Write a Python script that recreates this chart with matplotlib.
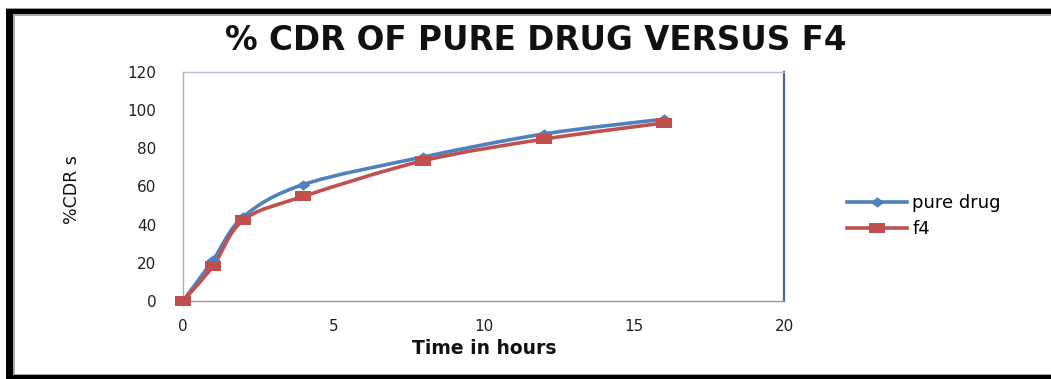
import matplotlib
matplotlib.use("Agg")
import matplotlib.pyplot as plt
from matplotlib.path import Path
from matplotlib.patches import PathPatch, Rectangle
from matplotlib.lines import Line2D
import numpy as np

# Sampling times (hours) and cumulative drug release (%)
time_h = [0, 1, 2, 4, 8, 12, 16]
pure_drug = [0, 21.5, 44, 61, 75.5, 87.5, 95.3]
f4 = [0, 18.3, 42.3, 54.8, 73.5, 84.8, 93.3]

series_names = ["pure drug", "f4"]
x_ticks = [0, 5, 10, 15, 20]
y_ticks = [0, 20, 40, 60, 80, 100, 120]

title_text = "% CDR OF PURE DRUG VERSUS F4"
x_label = "Time in hours"
y_label = "%CDR s"

BLUE = "#4F81BD"
RED = "#C0504D"
FONT = "DejaVu Sans"

W, H = 1051, 379
fig = plt.figure(figsize=(W / 100, H / 100), dpi=100)


def px_rect(x0, y0, x1, y1, color):
    """Rectangle given in pixel coordinates measured from the top-left."""
    fig.add_artist(Rectangle((x0 / W, 1 - y1 / H), (x1 - x0) / W, (y1 - y0) / H,
                             transform=fig.transFigure, facecolor=color,
                             edgecolor="none", zorder=0))


# Outer frame: thick black bands with thin grey edges
px_rect(6, 8, W, 9, "#9a9a9a")
px_rect(6, 9, W, 14.5, "black")
px_rect(13, 14.5, W, 15.5, "#a8a8a8")
px_rect(6, 9, 12.5, H, "black")
px_rect(12.5, 14.5, 15, 374, "#a8a8a8")
px_rect(12.5, 373.5, W, 375, "#a8a8a8")
px_rect(6, 375, W, H, "black")

ax = fig.add_axes([183 / W, 1 - 301 / H, (784 - 183) / W, (301 - 72) / H])
ax.set_xlim(0, 20)
ax.set_ylim(0, 120)
ax.set_xticks(x_ticks)
ax.set_yticks(y_ticks)
ax.tick_params(length=0, labelsize=11, colors="#222222")
for lab in ax.get_xticklabels() + ax.get_yticklabels():
    lab.set_fontfamily(FONT)
ax.tick_params(axis="y", pad=19)
ax.tick_params(axis="x", pad=13)

ax.spines["left"].set_color("#9fb0cc")
ax.spines["top"].set_color("#b4c0d6")
ax.spines["bottom"].set_color("#9a9a9a")
ax.spines["right"].set_color("#4a63a3")
ax.spines["right"].set_linewidth(1.6)
for s in ("left", "top", "bottom"):
    ax.spines[s].set_linewidth(1.0)


def smooth_path(xs, ys):
    """Catmull-Rom style cubic Bezier path through the points."""
    pts = np.column_stack([xs, ys]).astype(float)
    n = len(pts)
    verts = [pts[0]]
    codes = [Path.MOVETO]
    for i in range(n - 1):
        p0 = pts[i - 1] if i > 0 else pts[i]
        p1 = pts[i]
        p2 = pts[i + 1]
        p3 = pts[i + 2] if i + 2 < n else pts[i + 1]
        c1 = p1 + (p2 - p0) / 6.0
        c2 = p2 - (p3 - p1) / 6.0
        verts += [c1, c2, p2]
        codes += [Path.CURVE4] * 3
    return Path(verts, codes)


diamond = [(0, 1), (1.35, 0), (0, -1), (-1.35, 0), (0, 1)]
wide_square = [(-1.6, -1), (1.6, -1), (1.6, 1), (-1.6, 1), (-1.6, -1)]

for ys, color, marker, msize in ((pure_drug, BLUE, diamond, 10),
                                 (f4, RED, wide_square, 12)):
    ax.add_patch(PathPatch(smooth_path(time_h, ys), facecolor="none",
                           edgecolor=color, linewidth=2.6, zorder=3,
                           capstyle="round", joinstyle="round"))
    ax.plot(time_h, ys, linestyle="none", marker=marker, markersize=msize,
            color=color, markeredgewidth=0, zorder=4, clip_on=False)

fig.text(536 / W, 1 - 41 / H, title_text, ha="center", va="center",
         fontsize=23.5, fontweight="bold", family=FONT, color="#111111")
fig.text(484 / W, 1 - 349 / H, x_label, ha="center", va="center",
         fontsize=13.5, fontweight="bold", family=FONT, color="#111111")
fig.text(72 / W, 1 - 190 / H, y_label, ha="center", va="center",
         rotation=90, fontsize=12.5, family="Liberation Sans Narrow",
         color="#111111")

handles = [
    Line2D([], [], color=BLUE, linewidth=2.6, marker=diamond, markersize=10,
           markeredgewidth=0),
    Line2D([], [], color=RED, linewidth=2.6, marker=wide_square, markersize=12,
           markeredgewidth=0),
]
fig.legend(handles, series_names, loc="center left",
           bbox_to_anchor=(840 / W, 1 - 216 / H), frameon=False,
           prop={"family": FONT, "size": 13}, handlelength=3.3,
           handletextpad=0.3, labelspacing=0.45, borderaxespad=0)

fig.savefig("out.png", dpi=100)
